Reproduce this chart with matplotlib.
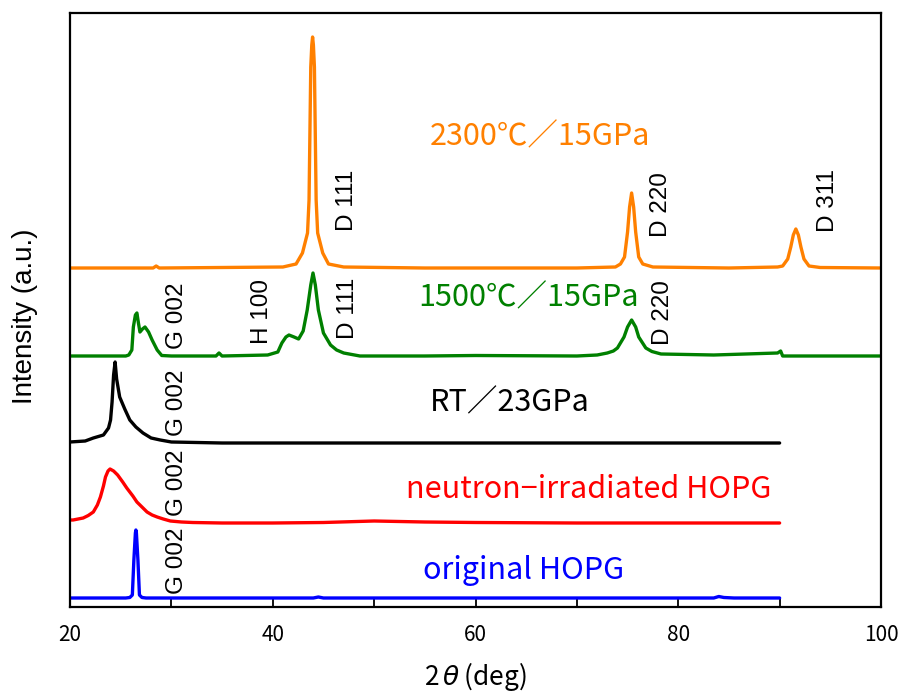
import matplotlib
matplotlib.use("Agg")
import matplotlib.pyplot as plt
from matplotlib.ticker import MultipleLocator

# ---------------- data (stacked intensities, a.u.) ----------------
tt_original = [20, 25.5, 25.9, 26.15, 26.3, 26.45, 26.5, 26.55, 26.7, 26.85, 27.1, 27.5,
               44.0, 44.5, 45.0, 60, 83.5, 84.0, 84.5, 85.5, 90]
int_original = [9, 9, 9.5, 12, 47, 74, 77, 74, 47, 12, 9.5, 9,
                9, 10, 9, 9, 9, 10.5, 9.5, 9, 9]

tt_neutron = [20, 20.3, 21.3, 21.8, 22.3, 22.7, 23.0, 23.3, 23.5, 23.75, 23.95, 24.3, 24.7,
              25.2, 25.6, 26.2, 26.6, 27.1, 27.6, 28.1, 28.6, 29.2, 29.9, 31.0, 32.1, 35,
              40, 45, 50, 55, 60, 70, 80, 90]
int_neutron = [87, 87, 89, 91.5, 95, 102, 110, 121, 130, 136, 138, 136, 132,
               125, 119, 111, 105, 100, 95, 92, 90, 88, 86, 85, 84.5, 84,
               84, 84.5, 86, 85, 84.5, 84, 84, 84]

tt_rt = [20, 21.5, 22.3, 23.3, 23.8, 24.0, 24.15, 24.3, 24.45, 24.6, 24.9, 25.4, 25.9, 26.5,
         27.2, 28.0, 28.9, 30, 35, 45, 60, 90]
int_rt = [165, 166, 169, 172, 179, 187, 205, 232, 245, 228, 210, 198, 187, 180,
          174, 169, 167, 165, 164, 164, 164, 164]

tt_1500 = [20, 24, 25.5, 25.8, 26.1, 26.25, 26.45, 26.6, 26.75, 26.9, 27.15, 27.4, 27.75,
           28.1, 28.6, 29.05, 30,
           34.4, 34.7, 35.0, 39.5, 40.5, 40.9, 41.3, 41.6, 42.1, 42.55, 43.0, 43.4, 43.75,
           43.97, 44.2, 44.5, 45.0, 45.7, 46.3, 47.0, 48.6, 55, 60, 70, 72.0, 73.0, 73.6,
           74.0, 74.65, 75.0, 75.4, 75.8, 76.1, 76.8, 77.4, 78.3, 83.5, 89.8, 90.1, 90.3, 100]
int_1500 = [251, 251, 251, 252, 257, 280, 292, 294, 284, 275, 278, 280, 275,
            267, 257, 251.5, 251,
            251, 254, 251, 252, 255, 264, 270, 272, 270, 268, 276, 297, 322,
            334, 322, 297, 274, 262, 257, 254, 251, 251, 251.5, 251, 252, 254, 256,
            259, 270, 280, 287, 280, 270, 259, 255.5, 253, 252, 254, 256, 251, 251]

tt_2300 = [20, 28.2, 28.5, 28.8, 41.0, 42.3, 42.93, 43.43, 43.58, 43.75, 43.85, 43.93,
           44.01, 44.11, 44.28, 44.43, 44.93, 45.5, 47.0, 55, 70, 73.8, 74.3, 74.7,
           75.0, 75.2, 75.4, 75.6, 75.8, 76.1, 76.5, 77.5, 85, 89.8, 90.3, 90.8, 91.1,
           91.35, 91.6, 91.85, 92.1, 92.4, 92.9, 94.0, 100]
int_2300 = [339, 339, 341, 339, 340, 343, 354, 374, 407, 540, 562, 570,
            562, 540, 407, 374, 354, 343, 340, 339, 339, 340, 343, 350,
            375, 400, 414, 400, 375, 350, 343, 340, 339, 340, 341, 348, 360,
            372, 378, 372, 360, 348, 341, 339.5, 339]

curve_names = ["original HOPG", "neutron−irradiated HOPG", "RT／23GPa",
               "1500℃／15GPa", "2300℃／15GPa"]
curve_colors = ["#0000ff", "#ff0000", "#000000", "#008000", "#ff8000"]

# peak labels: (text, 2theta, intensity)
peak_texts = ["D 111", "D 220", "D 311", "G 002", "H 100", "D 111", "D 220",
              "G 002", "G 002", "G 002"]
peak_x = [47.36, 78.27, 94.77, 30.57, 38.96, 47.4, 78.47, 30.57, 30.57, 30.57]
peak_y = [407, 402, 407, 291, 295, 299, 294, 204, 124, 46]

# curve name label positions
name_x = [64.7, 71.2, 63.4, 65.2, 66.4]
name_y = [37, 117, 204, 309, 470]

x_ticks = [20, 40, 60, 80, 100]

# ---------------- plot ----------------
fig = plt.figure(figsize=(9.05, 6.93), dpi=100)
ax = fig.add_axes([70 / 905, 86 / 693, 811 / 905, 594 / 693])

series = [(tt_original, int_original), (tt_neutron, int_neutron), (tt_rt, int_rt),
          (tt_1500, int_1500), (tt_2300, int_2300)]
for (xs, ys), c in zip(series, curve_colors):
    ax.plot(xs, ys, color=c, lw=2.4, solid_joinstyle="round", solid_capstyle="round")

ax.set_xlim(20, 100)
ax.set_ylim(0, 594)
ax.set_xticks(x_ticks)
ax.xaxis.set_minor_locator(MultipleLocator(10))
ax.tick_params(axis="x", which="both", direction="in", length=6, width=1.3,
               labelsize=15, pad=12)
for lab in ax.get_xticklabels():
    lab.set_family(["Noto Sans CJK JP", "DejaVu Sans"])
ax.set_yticks([])
for s in ax.spines.values():
    s.set_linewidth(1.6)

for t, x, y in zip(peak_texts, peak_x, peak_y):
    ax.text(x, y, t, rotation=90, ha="center", va="center", fontsize=17.5,
            family="Liberation Sans", color="black")

for t, x, y, c in zip(curve_names, name_x, name_y, curve_colors):
    ax.text(x, y, t, ha="center", va="center", fontsize=22, color=c,
            family=["Noto Sans CJK JP", "DejaVu Sans"])

ax.set_ylabel("Intensity (a.u.)", fontsize=20, family="Liberation Sans",
              va="center", ha="center")
ax.yaxis.set_label_coords(-0.055, 0.49)
ax.set_xlabel(r"2$\,\theta\,$(deg)", fontsize=19, family=["Noto Sans CJK JP", "DejaVu Sans"],
              labelpad=10)

fig.savefig("out.png", dpi=100)
